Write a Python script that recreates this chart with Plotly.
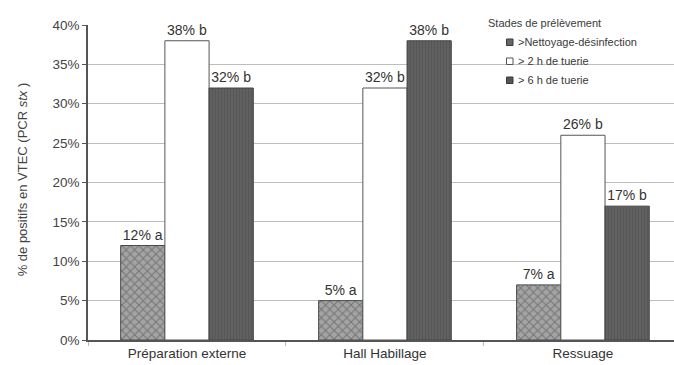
import plotly.graph_objects as go

# Sampling sites and detection rates per sampling stage
categories = ["Préparation externe", "Hall Habillage", "Ressuage"]
stages = [">Nettoyage-désinfection", "> 2 h de tuerie", "> 6 h de tuerie"]
nettoyage = [0.12, 0.05, 0.07]
tuerie_2h = [0.38, 0.32, 0.26]
tuerie_6h = [0.32, 0.38, 0.17]
letters_nettoyage = ["a", "a", "a"]
letters_2h = ["b", "b", "b"]
letters_6h = ["b", "b", "b"]
y_ticks = [0, 0.05, 0.10, 0.15, 0.20, 0.25, 0.30, 0.35, 0.40]

W, H = 674, 365
ML, MR, MT, MB = 88, 0, 25, 25
PW, PH = W - ML - MR, H - MT - MB


def px(x):
    return (x - ML) / PW


def py(y):
    return (H - MB - y) / PH


FONT = "Liberation Sans, Arial, sans-serif"
TXT = "#333333"

series = [
    (nettoyage, letters_nettoyage,
     dict(color="#8f8f8f", line=dict(color="#4a4a4a", width=1),
          pattern=dict(shape="x", fgcolor="#4a4a4a", bgcolor="#a4a4a4",
                       size=6, solidity=0.35))),
    (tuerie_2h, letters_2h,
     dict(color="white", line=dict(color="#555555", width=1))),
    (tuerie_6h, letters_6h,
     dict(color="#5c5c5c", line=dict(color="#444444", width=1),
          pattern=dict(shape="|", fgcolor="#4e4e4e", bgcolor="#606060",
                       size=3, solidity=0.35))),
]

fig = go.Figure()
for name, (vals, letters, marker) in zip(stages, series):
    fig.add_trace(go.Bar(
        x=categories, y=vals, name=name, marker=marker,
        text=[f"{round(v * 100)}% {l}" for v, l in zip(vals, letters)],
        textposition="outside", cliponaxis=False,
        textfont=dict(family=FONT, size=14, color=TXT),
        showlegend=False,
    ))

# Legend panel drawn over the gridlines
shapes = [dict(type="rect", xref="paper", yref="paper", layer="between",
               x0=px(482), x1=px(652), y0=py(90), y1=py(8),
               fillcolor="white", line=dict(width=0))]
annotations = [
    dict(text="Stades de prélèvement", xref="paper", yref="paper",
         x=px(486), y=py(23), xanchor="left", yanchor="middle",
         showarrow=False, font=dict(family=FONT, size=11, color="#3a3a3a")),
    dict(text="% de positifs en VTEC (PCR <i>stx</i> )", xref="paper", yref="paper",
         x=px(22), y=0.51, xanchor="center", yanchor="middle", textangle=-90,
         showarrow=False, font=dict(family=FONT, size=13, color="#444444")),
]
swatches = [("#666666", "#3a3a3a"), ("white", "#555555"), ("#555555", "#3a3a3a")]
for i, (name, (fill, edge)) in enumerate(zip(stages, swatches)):
    yc = 42 + 19 * i
    shapes.append(dict(type="rect", xref="paper", yref="paper", layer="above",
                       x0=px(506.5), x1=px(513), y0=py(yc + 3.5), y1=py(yc - 3),
                       fillcolor=fill, line=dict(color=edge, width=1)))
    annotations.append(dict(text=name, xref="paper", yref="paper",
                            x=px(515.5), y=py(yc), xanchor="left", yanchor="middle",
                            showarrow=False,
                            font=dict(family=FONT, size=11, color="#3a3a3a")))

fig.update_layout(
    width=W, height=H,
    margin=dict(l=ML, r=MR, t=MT, b=MB),
    paper_bgcolor="white", plot_bgcolor="white",
    barmode="group", bargap=0.33, bargroupgap=0,
    font=dict(family=FONT, color=TXT),
    shapes=shapes, annotations=annotations,
    showlegend=False,
)
fig.update_xaxes(
    range=[-0.5, 2.46], showgrid=False, showline=True, linecolor="#555555",
    linewidth=1.5, ticks="outside", tickson="boundaries", ticklen=4,
    tickcolor="#bbbbbb", tickfont=dict(family=FONT, size=13.5, color=TXT),
)
fig.update_yaxes(
    range=[0, 0.4], tickvals=y_ticks, tickformat=".0%", showgrid=True,
    gridcolor="#bdbdbd", gridwidth=1, showline=True, linecolor="#555555",
    linewidth=1.5, ticks="outside", ticklen=4, tickcolor="#555555",
    tickfont=dict(family=FONT, size=13.5, color="#444444"), zeroline=False,
)

fig.write_html("out.html")
